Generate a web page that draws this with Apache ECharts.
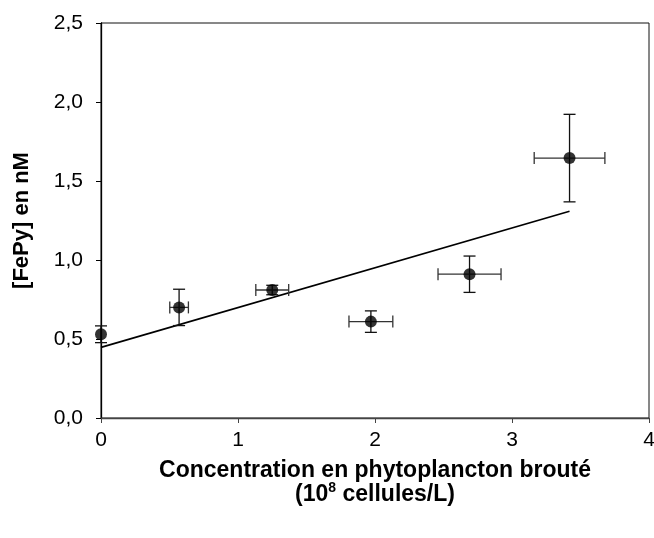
<!DOCTYPE html>
<html>
<head>
<meta charset="utf-8">
<script src="https://cdn.jsdelivr.net/npm/echarts@6/dist/echarts.min.js"></script>
<style>
html,body{margin:0;padding:0;background:#fff;}
#chart{width:654px;height:538px;}
</style>
</head>
<body>
<div id="chart"></div>
<script>
// Grazed phytoplankton concentration (10^8 cells/L) vs [FePy] (nM)
var conc      = [0, 0.57, 1.25, 1.97, 2.69, 3.42];
var fepy      = [0.53, 0.70, 0.81, 0.61, 0.91, 1.645];
var concErr   = [0, 0.068, 0.12, 0.16, 0.23, 0.258];
var fepyErr   = [0.053, 0.115, 0.03, 0.068, 0.115, 0.277];
// Linear fit drawn between its two end points
var fitX      = [0, 3.42];
var fitY      = [0.447, 1.308];
var yTicks    = [0, 0.5, 1.0, 1.5, 2.0, 2.5];
var xTicks    = [0, 1, 2, 3, 4];

var FONT = '"Liberation Sans", Arial, sans-serif';

var points = conc.map(function (x, i) { return [x, fepy[i]]; });
var bars = conc.map(function (x, i) { return [x, fepy[i], concErr[i], fepyErr[i]]; });
var fit = fitX.map(function (x, i) { return [x, fitY[i]]; });

function errorBars(params, api) {
  var x = api.value(0), y = api.value(1), ex = api.value(2), ey = api.value(3);
  var cap = 6;
  var children = [];
  var vStyle = { stroke: '#111', lineWidth: 1.3 };
  var hStyle = { stroke: '#333', lineWidth: 1.3 };
  if (ey > 0) {
    var top = api.coord([x, y + ey]), bot = api.coord([x, y - ey]);
    children.push({ type: 'line', shape: { x1: top[0], y1: top[1], x2: bot[0], y2: bot[1] }, style: vStyle });
    children.push({ type: 'line', shape: { x1: top[0] - cap, y1: top[1], x2: top[0] + cap, y2: top[1] }, style: vStyle });
    children.push({ type: 'line', shape: { x1: bot[0] - cap, y1: bot[1], x2: bot[0] + cap, y2: bot[1] }, style: vStyle });
  }
  if (ex > 0) {
    var l = api.coord([x - ex, y]), r = api.coord([x + ex, y]);
    children.push({ type: 'line', shape: { x1: l[0], y1: l[1], x2: r[0], y2: r[1] }, style: hStyle });
    children.push({ type: 'line', shape: { x1: l[0], y1: l[1] - cap, x2: l[0], y2: l[1] + cap }, style: hStyle });
    children.push({ type: 'line', shape: { x1: r[0], y1: r[1] - cap, x2: r[0], y2: r[1] + cap }, style: hStyle });
  }
  return { type: 'group', children: children };
}

var chart = echarts.init(document.getElementById('chart'), null, { renderer: 'canvas' });
chart.setOption({
  backgroundColor: '#fff',
  animation: false,
  grid: {
    left: 101, top: 23, right: 5, bottom: 120,
    containLabel: false, outerBoundsMode: 'none',
    show: true, borderColor: '#111', borderWidth: 1
  },
  xAxis: {
    type: 'value', min: xTicks[0], max: xTicks[xTicks.length - 1], interval: 1,
    splitLine: { show: false },
    axisLine: { show: true, lineStyle: { color: '#444', width: 1.3 } },
    axisTick: { show: true, length: 5, lineStyle: { color: '#444' } },
    axisLabel: { color: '#000', fontFamily: FONT, fontSize: 21, margin: 12, hideOverlap: false },
    name: '{t|Concentration en phytoplancton brouté}\n{u|(10}{s|8}{u| cellules/L)}',
    nameLocation: 'middle', nameGap: 43,
    nameTextStyle: {
      color: '#000', fontFamily: FONT, fontSize: 23, fontWeight: 'bold', lineHeight: 20,
      rich: {
        t: { fontFamily: FONT, fontSize: 23, fontWeight: 'bold', color: '#000', lineHeight: 20 },
        u: { fontFamily: FONT, fontSize: 23, fontWeight: 'bold', color: '#000', lineHeight: 20, verticalAlign: 'bottom' },
        s: { fontFamily: FONT, fontSize: 14, fontWeight: 'bold', color: '#000', lineHeight: 25, verticalAlign: 'top' }
      }
    }
  },
  yAxis: {
    type: 'value', min: yTicks[0], max: yTicks[yTicks.length - 1], interval: 0.5,
    splitLine: { show: false },
    axisLine: { show: true, lineStyle: { color: '#000', width: 1.3 } },
    axisTick: { show: true, length: 5, lineStyle: { color: '#000' } },
    axisLabel: {
      color: '#000', fontFamily: FONT, fontSize: 21, margin: 18,
      formatter: function (v) { return v.toFixed(1).replace('.', ','); }
    },
    name: '[FePy] en nM', nameLocation: 'middle', nameGap: 68,
    nameTextStyle: { color: '#000', fontFamily: FONT, fontSize: 22, fontWeight: 'bold' }
  },
  series: [
    {
      type: 'line', data: fit, showSymbol: false, symbol: 'none',
      lineStyle: { color: '#000', width: 1.6 }, z: 2
    },
    {
      type: 'custom', data: bars, renderItem: errorBars, z: 3,
      encode: { x: 0, y: 1 }
    },
    {
      type: 'scatter', data: points, symbol: 'circle', symbolSize: 12,
      itemStyle: { color: '#000' }, z: 4
    }
  ]
});
</script>
</body>
</html>
